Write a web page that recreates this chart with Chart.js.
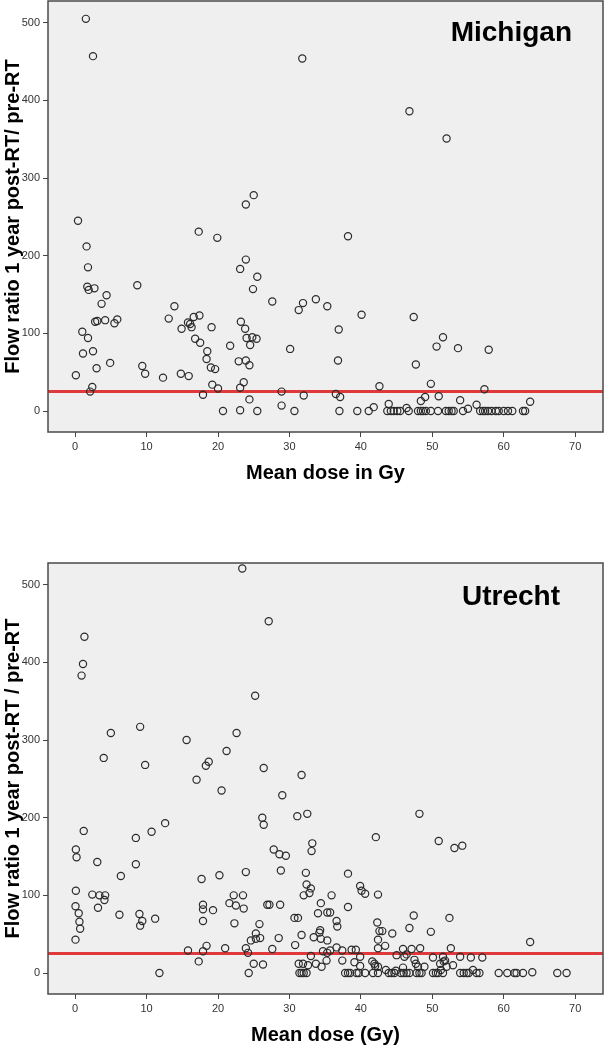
<!DOCTYPE html>
<html>
<head>
<meta charset="utf-8">
<script src="https://cdn.jsdelivr.net/npm/chart.js@4.4.0/dist/chart.umd.min.js"></script>
<style>
  body { margin: 0; background: #fff; width: 604px; height: 1047px; position: relative; overflow: hidden;
         font-family: "Liberation Sans", Arial, sans-serif; }
  .panel { position: absolute; left: 0; }
  .panel canvas { display: block; }
  .site { position: absolute; font-weight: bold; font-size: 28px; line-height: 28px; color: #000; }
</style>
</head>
<body>
<div class="panel" style="top:-20px"><canvas id="michigan" width="610" height="505"></canvas></div>
<div class="panel" style="top:520px"><canvas id="utrecht" width="610" height="527"></canvas></div>
<div class="site" style="top:18px;right:32px">Michigan</div>
<div class="site" style="top:582px;right:44px">Utrecht</div>
<script>
// --- data: [mean dose (Gy), flow ratio 1 year post-RT / pre-RT] ---
const michiganPoints = [
  [1.5,505],[2.5,457],[31.8,454],[46.8,386],[52.0,351],[25.0,278],[23.9,266],[0.4,245],
  [17.3,231],[19.9,223],[38.2,225],[1.6,212],[1.8,185],[23.9,195],[23.1,183],[25.5,173],
  [8.7,162],[1.7,160],[1.9,156],[2.7,158],[24.9,157],[4.4,149],[3.7,138],[27.6,141],
  [33.7,144],[31.9,139],[31.3,130],[35.3,135],[13.9,135],[13.1,119],[40.1,124],[17.4,123],
  [16.6,121],[47.4,121],[2.8,115],[3.1,116],[4.2,117],[5.9,118],[5.5,113],[23.2,115],
  [15.8,114],[16.1,112],[14.9,106],[16.3,108],[19.1,108],[23.8,106],[36.9,105],[1.0,102],
  [1.8,94],[51.5,95],[16.8,93],[24.0,94],[24.8,95],[25.4,93],[17.5,88],[24.5,85],
  [21.7,84],[50.6,83],[53.6,81],[30.1,80],[57.9,79],[2.5,77],[18.5,77],[1.1,74],
  [18.4,67],[22.9,64],[23.9,65],[36.8,65],[4.9,62],[47.7,60],[24.4,59],[9.4,58],
  [3.0,55],[19.0,56],[19.6,54],[9.8,48],[0.1,46],[14.8,48],[15.9,45],[12.3,43],
  [49.8,35],[19.2,34],[23.6,37],[42.6,32],[2.4,31],[23.1,30],[20.0,29],[57.3,28],
  [2.1,25],[28.9,25],[36.5,22],[17.9,21],[32.0,20],[37.1,18],[50.9,19],[49.0,18],
  [24.4,15],[48.4,13],[53.9,14],[63.7,12],[28.9,7],[43.9,9],[41.8,5],[46.4,4],
  [56.2,8],[55.0,3],[23.1,1],
  [20.7,0],[25.5,0],[30.7,0],[37.0,0],[39.5,0],[41.1,0],[43.7,0],[44.2,0],[44.6,0],
  [45.1,0],[45.5,0],[46.7,0],[48.0,0],[48.4,0],[48.7,0],[49.1,0],[49.8,0],[50.8,0],
  [51.9,0],[52.3,0],[52.7,0],[53.0,0],[54.3,0],[56.7,0],[57.1,0],[57.4,0],[57.8,0],
  [58.3,0],[58.9,0],[59.3,0],[60.0,0],[60.6,0],[61.2,0],[62.7,0],[63.0,0]
];

const utrechtPoints = [
  [23.4,521],[27.1,453],[1.3,433],[1.1,398],[0.9,383],[25.2,357],[9.1,317],[5.0,309],
  [22.6,309],[15.6,300],[21.2,286],[4.0,277],[18.7,272],[18.3,267],[9.8,268],[26.4,264],
  [31.7,255],[17.0,249],[20.5,235],[29.0,229],[26.2,200],[26.4,191],[31.1,202],[32.5,205],
  [48.2,205],[12.6,193],[1.2,183],[10.7,182],[42.1,175],[50.9,170],[54.2,164],[53.1,161],
  [33.2,167],[33.1,157],[8.5,174],[0.1,159],[0.2,149],[27.8,159],[28.6,153],[29.5,151],
  [3.1,143],[8.5,140],[23.9,130],[28.8,132],[32.3,129],[38.2,128],[20.2,126],[6.4,125],
  [17.7,121],[32.4,114],[39.9,112],[33.0,109],[0.1,106],[40.1,106],[32.8,103],[40.6,102],
  [2.4,101],[42.4,101],[3.4,100],[4.2,100],[4.1,94],[22.2,100],[23.5,100],[32.0,100],
  [35.9,100],[21.6,90],[22.5,87],[34.4,90],[26.9,88],[27.2,88],[28.7,88],[17.9,88],
  [17.9,82],[23.6,83],[19.3,81],[0.05,86],[3.2,84],[38.2,85],[0.5,77],[9.0,76],
  [6.2,75],[34.0,77],[35.3,78],[35.7,78],[47.4,74],[52.4,71],[30.7,71],[31.2,71],
  [11.2,70],[36.6,67],[0.6,66],[9.4,67],[9.1,61],[17.9,67],[22.3,64],[25.8,63],
  [36.7,60],[42.3,65],[46.8,58],[0.7,57],[42.6,54],[43.0,54],[49.8,53],[44.4,51],
  [0.05,43],[25.3,51],[24.6,42],[25.3,44],[25.9,45],[28.5,45],[31.7,49],[34.3,55],
  [34.2,52],[33.4,46],[34.4,44],[35.3,42],[42.4,43],[43.4,35],[63.7,40],
  [17.3,15],[25.0,12],[26.3,11],[31.3,12],[31.9,12],[32.6,10],[33.7,12],[34.5,8],
  [35.2,16],[33.0,22],[37.4,16],[39.1,14],[39.9,9],[41.6,15],[42.0,9],[42.4,8],
  [39.9,21],[15.8,29],[17.9,28],[18.4,35],[21.0,32],[23.9,32],[24.2,26],[27.6,31],
  [30.8,36],[34.7,28],[35.3,26],[35.7,29],[36.6,33],[37.4,29],[38.7,30],[39.3,30],
  [42.4,32],[41.9,12],[45.9,31],[47.1,31],[48.3,32],[52.6,32],[45.0,23],[46.1,21],
  [46.4,24],[50.1,20],[51.5,21],[53.9,21],[55.4,20],[57.0,20],[47.5,17],[47.7,12],
  [48.0,8],[48.9,8],[45.9,7],[43.5,4],[44.9,3],[51.1,12],[51.6,15],[51.8,16],
  [52.9,10],[52.0,8],[51.2,4],[55.7,4],[64.0,1],
  [11.8,0],[24.3,0],[31.4,0],[31.7,0],[32.0,0],[32.4,0],[37.8,0],[38.2,0],[38.5,0],
  [39.4,0],[39.7,0],[40.6,0],[41.7,0],[42.4,0],[43.9,0],[44.3,0],[44.7,0],[45.6,0],
  [46.0,0],[46.4,0],[46.8,0],[47.8,0],[48.2,0],[48.5,0],[50.1,0],[50.5,0],[50.8,0],
  [51.5,0],[53.9,0],[54.4,0],[54.8,0],[55.1,0],[56.2,0],[56.6,0],[59.3,0],[60.5,0],
  [61.5,0],[61.8,0],[62.7,0],[67.5,0],[68.8,0]
];

const doseTicks = [0, 10, 20, 30, 40, 50, 60, 70];
const ratioTicks = [0, 100, 200, 300, 400, 500];
const doseRange = [-3.8, 73.9];
const ratioRange = [-27, 528];
const referenceRatio = 25;

const FONT = '"Liberation Sans", Arial, sans-serif';

// grey plot background and box around it
const plotFrame = {
  id: 'plotFrame',
  beforeDraw(chart) {
    const { ctx, chartArea: a } = chart;
    ctx.save();
    ctx.fillStyle = '#efefef';
    ctx.fillRect(a.left, a.top, a.right - a.left, a.bottom - a.top);
    ctx.restore();
  },
  afterDraw(chart) {
    const { ctx, chartArea: a } = chart;
    ctx.save();
    ctx.strokeStyle = '#4a4a4a';
    ctx.lineWidth = 1.5;
    ctx.strokeRect(a.left, a.top, a.right - a.left, a.bottom - a.top);
    ctx.restore();
  }
};

function makeChart(id, points, xTitle, yTitle, padTop) {
  const ctx = document.getElementById(id).getContext('2d');
  return new Chart(ctx, {
    type: 'scatter',
    data: {
      datasets: [{
        data: points.map(p => ({ x: p[0], y: p[1] })),
        pointRadius: 3.6,
        pointBorderWidth: 1.2,
        borderColor: '#2b2b2b',
        backgroundColor: 'rgba(0,0,0,0)',
        order: 0
      }, {
        data: doseRange.map(d => ({ x: d, y: referenceRatio })),
        showLine: true,
        borderColor: '#e0393b',
        borderWidth: 3,
        pointRadius: 0,
        order: 1
      }]
    },
    options: {
      responsive: false,
      animation: false,
      layout: { padding: { top: padTop, right: 7, left: 0, bottom: 0 } },
      plugins: { legend: { display: false }, tooltip: { enabled: false } },
      scales: {
        x: {
          type: 'linear',
          min: doseRange[0],
          max: doseRange[1],
          afterBuildTicks: s => { s.ticks = doseTicks.map(v => ({ value: v })); },
          afterFit: s => { s.height = 53; },
          ticks: { color: '#333', font: { family: FONT, size: 11 }, padding: 3, maxRotation: 0, autoSkip: false },
          grid: { drawOnChartArea: false, drawTicks: true, tickLength: 5, color: '#444' },
          border: { display: false },
          title: { display: true, text: xTitle, color: '#000', padding: { top: 4, bottom: 0 },
                   font: { family: FONT, size: 20, weight: 'bold' } }
        },
        y: {
          min: ratioRange[0],
          max: ratioRange[1],
          afterBuildTicks: s => { s.ticks = ratioTicks.map(v => ({ value: v })); },
          afterFit: s => { s.width = 48; },
          ticks: { color: '#333', font: { family: FONT, size: 11 }, padding: 3 },
          grid: { drawOnChartArea: false, drawTicks: true, tickLength: 5, color: '#444' },
          border: { display: false },
          title: { display: true, text: yTitle, color: '#000', padding: { top: 1, bottom: 0 },
                   font: { family: FONT, size: 20, weight: 'bold' } }
        }
      }
    },
    plugins: [plotFrame]
  });
}

makeChart('michigan', michiganPoints, 'Mean dose in Gy', 'Flow ratio 1 year post-RT/ pre-RT', 21);
makeChart('utrecht', utrechtPoints, 'Mean dose (Gy)', 'Flow ratio 1 year post-RT / pre-RT', 43);
</script>
</body>
</html>
